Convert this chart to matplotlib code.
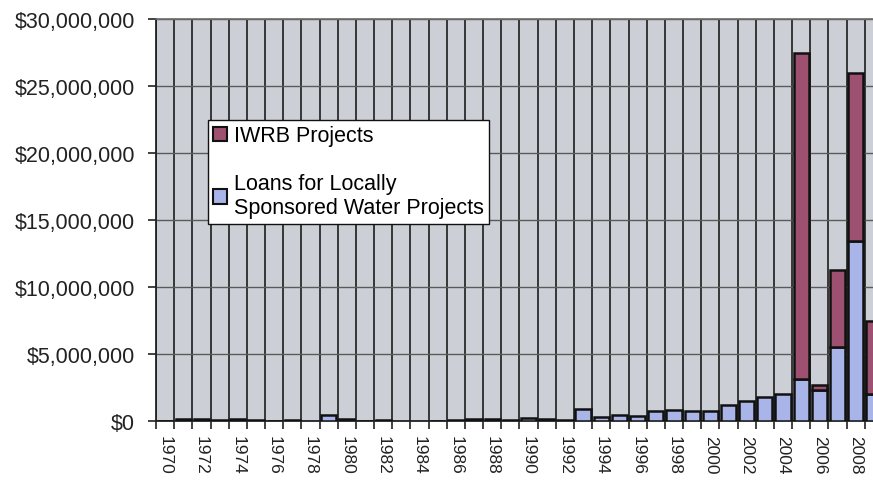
import numpy as np
import matplotlib
matplotlib.use("Agg")
import matplotlib.pyplot as plt
import matplotlib.patches as mpatches
from matplotlib.ticker import FuncFormatter, MultipleLocator

plt.rcParams['font.family'] = ['Liberation Sans', 'DejaVu Sans']

# data (dollars)
years = list(range(1970, 2010))
loans = [30e3, 150e3, 120e3, 40e3, 120e3, 110e3, 30e3, 80e3, 0, 480e3,
         180e3, 20e3, 60e3, 0, 0, 30e3, 60e3, 150e3, 130e3, 80e3,
         250e3, 130e3, 100e3, 920e3, 275e3, 450e3, 400e3, 720e3, 850e3, 720e3,
         780e3, 1.2e6, 1.5e6, 1.8e6, 2.0e6, 3.1e6, 2.35e6, 5.5e6, 13.4e6, 2.0e6]
iwrb = [0] * 35 + [24.4e6, 0.35e6, 5.8e6, 12.6e6, 5.5e6]

c_iwrb = '#9e5071'
c_loans = '#a9b4e8'
bg = '#ccd0d6'

fig = plt.figure(figsize=(8.73, 4.81), dpi=100)
ax = fig.add_axes([156 / 873, 1 - 422 / 481, 1 - 156 / 873, 402 / 481])
ax.set_facecolor(bg)

x = np.arange(len(years))
loans = np.array(loans)
iwrb = np.array(iwrb)

m = loans > 0
ax.bar(x[m], loans[m], width=0.84, color=c_loans, edgecolor='#111111',
       linewidth=1.8, zorder=3)
m2 = iwrb > 0
ax.bar(x[m2], iwrb[m2], bottom=loans[m2], width=0.84, color=c_iwrb,
       edgecolor='#111111', linewidth=1.8, zorder=3)

# y axis
ax.yaxis.set_major_locator(MultipleLocator(5e6))
ax.yaxis.set_major_formatter(FuncFormatter(lambda v, p: "${:,.0f}".format(v)))
ax.tick_params(axis='y', labelsize=15.5, length=6, width=1.2, pad=9,
               colors='#222222')
ax.grid(axis='y', color='#5a5a5a', linewidth=1.0, zorder=1)

# x axis: labels at every other year, ticks / gridlines at category edges
ax.set_xticks(x[::2])
ax.set_xticklabels([str(y) for y in years[::2]], rotation=270, fontsize=12.5)
ax.tick_params(axis='x', which='major', length=0, pad=10, colors='#222222')
ax.set_xticks(np.arange(-0.5, len(years), 1.0), minor=True)
ax.tick_params(axis='x', which='minor', length=6, width=1.2, color='#222222')
ax.grid(axis='x', which='minor', color='#2a2a2a', linewidth=1.3, zorder=1)

# the source chart is cut off at the right, partway through 2009
ax.set_xlim(-0.5, 38.95)
ax.set_ylim(0, 30e6)

for s in ['left', 'bottom']:
    ax.spines[s].set_color('#222222')
    ax.spines[s].set_linewidth(1.3)
ax.spines['top'].set_color('#6a6a6a')
ax.spines['top'].set_linewidth(1.2)
ax.spines['right'].set_visible(False)

handles = [mpatches.Patch(facecolor=c_iwrb, edgecolor='#111111', linewidth=1.5),
           mpatches.Patch(facecolor=c_loans, edgecolor='#111111', linewidth=1.5)]
labels = ['IWRB Projects', 'Loans for Locally\nSponsored Water Projects']
leg = fig.legend(handles, labels, loc='upper left',
                 bbox_to_anchor=(208 / 873, 1 - 121 / 481),
                 fontsize=15.5, frameon=True, fancybox=False, shadow=False,
                 handlelength=0.65, handleheight=0.65, handletextpad=0.3,
                 labelspacing=1.25, borderpad=0.25, borderaxespad=0,
                 framealpha=1)
leg.get_frame().set_edgecolor('#111111')
leg.get_frame().set_linewidth(1.0)

fig.savefig('out.png', dpi=100, facecolor='white')
